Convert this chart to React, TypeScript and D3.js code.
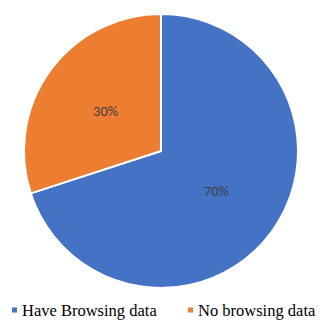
import React from "react";
import * as d3 from "d3";

const categories = ["Have Browsing data", "No browsing data"];
const values = [70, 30];
const colors = ["#4472C4", "#ED7D31"];

export default function App() {
  const width = 320;
  const height = 320;
  const cx = 161;
  const cy = 151;
  const r = 137;
  const pie = d3.pie<number>().sort(null).value((d) => d);
  const arcs = pie(values);
  const arc = d3.arc<d3.PieArcDatum<number>>().innerRadius(0).outerRadius(r);
  const labelArc = d3.arc<d3.PieArcDatum<number>>().innerRadius(r * 0.5).outerRadius(r * 0.5);
  const legendX = [12, 188];
  return (
    <svg width={width} height={height} style={{ position: "absolute", left: 0, top: 0 }}>
      <rect width={width} height={height} fill="#fff" />
      <g transform={`translate(${cx},${cy})`}>
        {arcs.map((a, i) => (
          <path key={i} d={arc(a) || ""} fill={colors[i]} stroke="#fff" strokeWidth={2} />
        ))}
        {arcs.map((a, i) => {
          const [x, y] = labelArc.centroid(a);
          return (
            <text key={i} x={x} y={y} textAnchor="middle" dominantBaseline="central"
              fontFamily="Carlito, 'Open Sans', sans-serif" fontSize={14.5} fill="#404040">
              {values[i]}%
            </text>
          );
        })}
      </g>
      {categories.map((c, i) => (
        <g key={c}>
          <rect x={legendX[i]} y={307.5} width={5} height={5} fill={colors[i]} />
          <text x={legendX[i] + 10} y={315.5} fontFamily="'Liberation Serif', 'Times New Roman', serif" fontSize={16.5} fill="#000">
            {c}
          </text>
        </g>
      ))}
    </svg>
  );
}
